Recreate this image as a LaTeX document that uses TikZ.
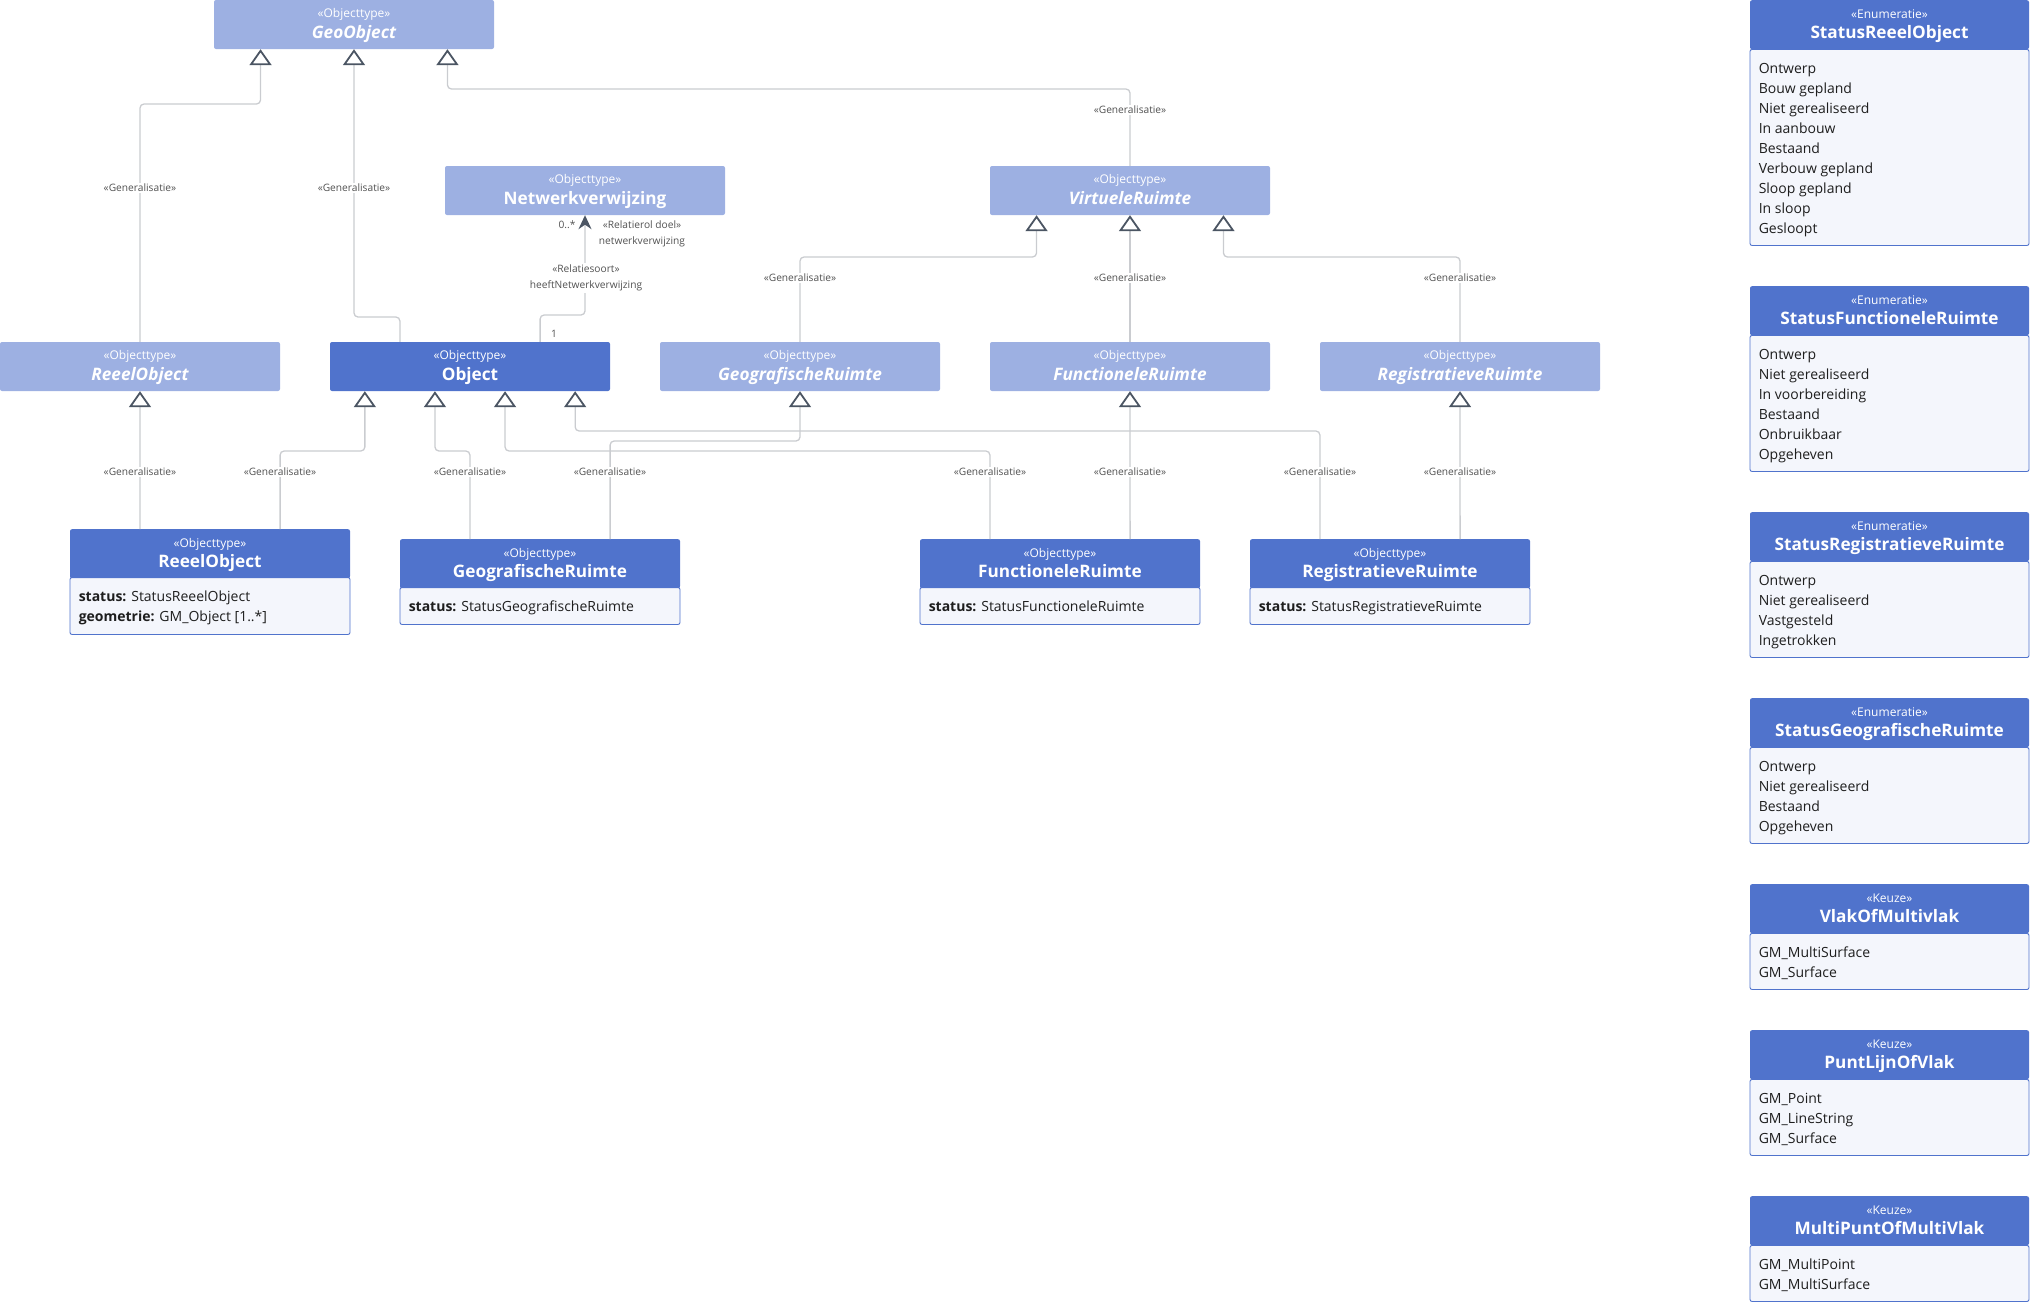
\documentclass[tikz,border=0pt]{standalone}
\usepackage{fontspec}
\setmainfont{Open Sans}
\usetikzlibrary{arrows.meta,calc}
\definecolor{umllight}{RGB}{157,176,226}
\definecolor{umldark}{RGB}{80,115,204}
\definecolor{umlcomp}{RGB}{244,246,252}
\definecolor{umlline}{RGB}{202,204,208}
\definecolor{umltri}{RGB}{75,85,99}
\definecolor{umltext}{RGB}{30,30,30}
\tikzset{
  head/.style={rectangle, rounded corners=2pt, inner sep=0pt,
    minimum width=280pt, minimum height=49pt},
  abshead/.style={head, fill=umllight},
  conhead/.style={head, fill=umldark},
  comp/.style={rectangle, rounded corners=2pt, inner sep=0pt, anchor=north,
    minimum width=280pt, fill=umlcomp, draw=umldark, line width=0.9pt},
  stereo/.style={anchor=base, inner sep=0pt, text=white,
    font=\fontsize{12}{14}\selectfont},
  ttl/.style={anchor=base, inner sep=0pt, text=white,
    font=\fontsize{17.2}{20}\selectfont\bfseries},
  absttl/.style={ttl, font=\fontsize{17.2}{20}\selectfont\bfseries\itshape},
  item/.style={anchor=base west, inner sep=0pt, text=umltext,
    font=\fontsize{14}{16}\selectfont},
  lbl/.style={fill=white, inner sep=1.5pt, text=black!68,
    font=\fontsize{10.2}{16}\selectfont},
  gen/.style={draw=umlline, line width=1.3pt, rounded corners=4pt,
    -{Triangle[length=16pt, width=22pt, line width=1.8pt, color=umltri, fill=white]}},
  assoc/.style={draw=umlline, line width=1.3pt, rounded corners=4pt,
    -{Stealth[length=14pt, width=13pt, color=umltri]}}
}

\begin{document}
\begin{tikzpicture}[x=1pt, y=-1pt]
  \useasboundingbox (0,0) rectangle (2030,1302);

  % Top of the hierarchy.
  \node[abshead] (geo) at (354,24.5) {};
  \node[stereo] (geo-s) at ([yshift=-18pt]geo.north) {«Objecttype»};
  \node[absttl] (geo-t) at ([yshift=-38.5pt]geo.north) {GeoObject};

  \node[abshead] (netw) at (585,190.5) {};
  \node[stereo] (netw-s) at ([yshift=-18pt]netw.north) {«Objecttype»};
  \node[ttl] (netw-t) at ([yshift=-38.5pt]netw.north) {Netwerkverwijzing};

  \node[abshead] (virt) at (1130,190.5) {};
  \node[stereo] (virt-s) at ([yshift=-18pt]virt.north) {«Objecttype»};
  \node[absttl] (virt-t) at ([yshift=-38.5pt]virt.north) {VirtueleRuimte};

  % Second row: abstract types and Object.
  \foreach \n/\x/\t in {reeelA/140/ReeelObject, geoA/800/GeografischeRuimte,
      funcA/1130/FunctioneleRuimte, regA/1460/RegistratieveRuimte} {
    \node[abshead] (\n) at (\x,366.5) {};
    \node[stereo] (\n-s) at ([yshift=-18pt]\n.north) {«Objecttype»};
    \node[absttl] (\n-t) at ([yshift=-38.5pt]\n.north) {\t};
  }
  \node[conhead] (obj) at (470,366.5) {};
  \node[stereo] (obj-s) at ([yshift=-18pt]obj.north) {«Objecttype»};
  \node[ttl] (obj-t) at ([yshift=-38.5pt]obj.north) {Object};

  % Concrete object types with their attributes.
  \node[comp, minimum height=57pt] (reeelC-c) at (210,577) {};
  \node[conhead, anchor=north] (reeelC) at (210,529) {};
  \node[stereo] (reeelC-s) at ([yshift=-18pt]reeelC.north) {«Objecttype»};
  \node[ttl] (reeelC-t) at ([yshift=-38.5pt]reeelC.north) {ReeelObject};
  \node[item] (reeelC-1) at ([xshift=9pt, yshift=-24pt]reeelC-c.north west)
    {\textbf{status:} StatusReeelObject};
  \node[item] (reeelC-2) at ([xshift=9pt, yshift=-44pt]reeelC-c.north west)
    {\textbf{geometrie:} GM\_Object [1..*]};

  \foreach \n/\x/\t in {geoC/540/GeografischeRuimte, funcC/1060/FunctioneleRuimte,
      regC/1390/RegistratieveRuimte} {
    \node[comp, minimum height=37pt] (\n-c) at (\x,587) {};
    \node[conhead, anchor=north] (\n) at (\x,539) {};
    \node[stereo] (\n-s) at ([yshift=-18pt]\n.north) {«Objecttype»};
    \node[ttl] (\n-t) at ([yshift=-38.5pt]\n.north) {\t};
    \node[item] (\n-1) at ([xshift=9pt, yshift=-24pt]\n-c.north west)
      {\textbf{status:} Status\t};
  }

  % Enumerations and choices, right column.
  \foreach \n/\y/\st/\t/\h/\items in {
      sro/0/Enumeratie/StatusReeelObject/196/{Ontwerp, Bouw gepland, Niet gerealiseerd,
        In aanbouw, Bestaand, Verbouw gepland, Sloop gepland, In sloop, Gesloopt},
      sfr/286/Enumeratie/StatusFunctioneleRuimte/136/{Ontwerp, Niet gerealiseerd,
        In voorbereiding, Bestaand, Onbruikbaar, Opgeheven},
      srr/512/Enumeratie/StatusRegistratieveRuimte/96/{Ontwerp, Niet gerealiseerd,
        Vastgesteld, Ingetrokken},
      sgr/698/Enumeratie/StatusGeografischeRuimte/96/{Ontwerp, Niet gerealiseerd,
        Bestaand, Opgeheven},
      vom/884/Keuze/VlakOfMultivlak/56/{GM\_MultiSurface, GM\_Surface},
      plv/1030/Keuze/PuntLijnOfVlak/76/{GM\_Point, GM\_LineString, GM\_Surface},
      mpv/1196/Keuze/MultiPuntOfMultiVlak/56/{GM\_MultiPoint, GM\_MultiSurface}} {
    \node[comp, minimum width=279pt, minimum height=\h pt] (\n-c) at (1889.5,\y+49) {};
    \node[conhead, minimum width=279pt, anchor=north] (\n) at (1889.5,\y) {};
    \node[stereo] (\n-s) at ([yshift=-18pt]\n.north) {«\st»};
    \node[ttl] (\n-t) at ([yshift=-38.5pt]\n.north) {\t};
    \foreach \v [count=\i] in \items
      \node[item] (\n-\i) at ([xshift=9pt, yshift={-4pt-20pt*\i}]\n-c.north west) {\v};
  }

  % Attachment points on parents and children.
  \coordinate (geo-p1) at ($(geo.south west)!0.1667!(geo.south east)$);
  \coordinate (geo-p3) at ($(geo.south west)!0.8333!(geo.south east)$);
  \coordinate (virt-p1) at ($(virt.south west)!0.1667!(virt.south east)$);
  \coordinate (virt-p3) at ($(virt.south west)!0.8333!(virt.south east)$);
  \foreach \k/\f in {1/0.125, 2/0.375, 3/0.625, 4/0.875}
    \coordinate (obj-p\k) at ($(obj.south west)!\f!(obj.south east)$);
  \foreach \n in {obj, reeelC, geoC, funcC, regC} {
    \coordinate (\n-u1) at ($(\n.north west)!0.25!(\n.north east)$);
    \coordinate (\n-u2) at ($(\n.north west)!0.75!(\n.north east)$);
  }

  % Generalisations up to GeoObject.
  \draw[gen] (reeelA.north) -- (reeelA.north |- 0,104) -| (geo-p1);
  \draw[gen] (obj-u1) -- (obj-u1 |- 0,317) -| (geo.south);
  \draw[gen] (virt.north) -- (virt.north |- 0,89) -| (geo-p3);

  % Association to Netwerkverwijzing.
  \draw[assoc] (obj-u2) -- (obj-u2 |- 0,315) -| (netw.south);

  % Generalisations up to VirtueleRuimte.
  \draw[gen] (geoA.north) -- (geoA.north |- 0,257) -| (virt-p1);
  \draw[gen] (funcA.north) -- (virt.south);
  \draw[gen] (regA.north) -- (regA.north |- 0,257) -| (virt-p3);

  % Concrete types up to their parents.
  \draw[gen] (reeelC-u1) -- (reeelA.south);
  \draw[gen] (reeelC-u2) -- (reeelC-u2 |- 0,451) -| (obj-p1);
  \draw[gen] (geoC-u1) -- (geoC-u1 |- 0,451) -| (obj-p2);
  \draw[gen] (geoC-u2) -- (geoC-u2 |- 0,441) -| (geoA.south);
  \draw[gen] (funcC-u1) -- (funcC-u1 |- 0,451) -| (obj-p3);
  \draw[gen] (funcC-u2) -- (funcA.south);
  \draw[gen] (regC-u1) -- (regC-u1 |- 0,431) -| (obj-p4);
  \draw[gen] (regC-u2) -- (regA.south);

  % Connector labels.
  \foreach \x/\y [count=\i] in {140/188, 354/188, 1130/110, 800/278, 1130/278,
      1460/278, 140/472, 280/472, 470/472, 610/472, 990/472, 1130/472,
      1320/472, 1460/472}
    \node[lbl] (gl\i) at (\x,\y) {«Generalisatie»};
  \node[lbl, align=center] (rel) at (586,278) {«Relatiesoort»\\heeftNetwerkverwijzing};
  \node[lbl, fill=none, align=center] (rol) at (642,233.5)
    {«Relatierol doel»\\netwerkverwijzing};
  \node[lbl, fill=none] (mul1) at (554,334) {1};
  \node[lbl, fill=none] (mul2) at (567,225) {0..*};
\end{tikzpicture}
\end{document}
